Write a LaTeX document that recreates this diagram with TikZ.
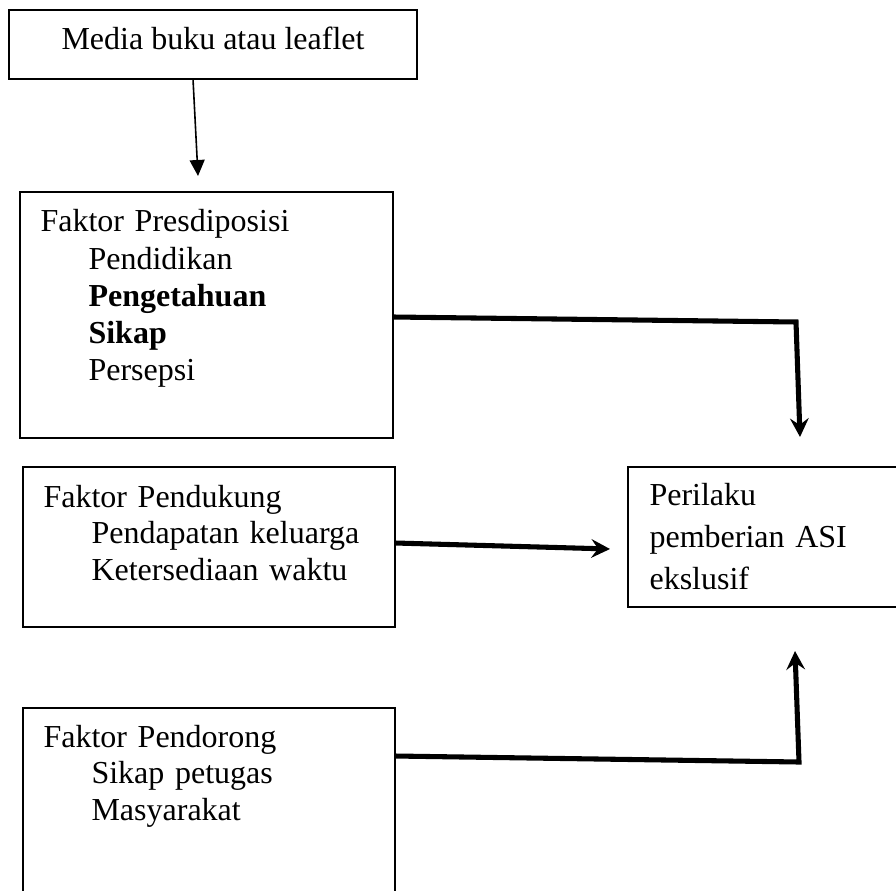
\documentclass[tikz,border=0pt]{standalone}
\usepackage{fontspec}
\setmainfont{Liberation Serif}
\usetikzlibrary{arrows.meta, calc}

\begin{document}
\begin{tikzpicture}[x=0.375pt, y=-0.375pt,
    box/.style={draw, line width=0.75pt, rectangle, inner sep=0pt, outer sep=0pt, anchor=north west},
    txt/.style={font=\fontsize{12}{13.8}\selectfont, inner sep=0pt, align=left, text width=#1, anchor=base west},
    txt/.default=125pt,
    thinarrow/.style={line width=0.6pt, -{Triangle[length=6pt, width=5.6pt]}},
    thickarrow/.style={line width=1.9pt, -{Stealth[length=7pt, width=7pt, inset=2.5pt]}}]
    \useasboundingbox (0,0) rectangle (896,890);

    % Boxes
    \node[box, minimum width=153pt, minimum height=25.9pt] (media) at (9,10) {};
    \node[box, minimum width=139.9pt, minimum height=92.25pt] (pres) at (20,192) {};
    \node[box, minimum width=139.5pt, minimum height=60pt] (dukung) at (23,467) {};
    \node[box, minimum width=139.5pt, minimum height=69pt] (dorong) at (23,708) {};
    \node[box, minimum width=101.25pt, minimum height=52.5pt] (perilaku) at (628,467) {};

    % Texts
    \node[font=\fontsize{12}{13.8}\selectfont, inner sep=0pt, anchor=base] (mediaText) at (213,50) {Media buku atau leaflet};
    \node[txt, font=\fontsize{12}{13.9}\selectfont] (presText) at (40,232) {Faktor Presdiposisi\\
        \hspace*{18pt}Pendidikan\\
        \hspace*{18pt}\textbf{Pengetahuan}\\
        \hspace*{18pt}\textbf{Sikap}\\
        \hspace*{18pt}Persepsi};
    \node[txt, font=\fontsize{12}{13.7}\selectfont] (dukungText) at (43,507) {Faktor Pendukung\\
        \hspace*{18pt}Pendapatan keluarga\\
        \hspace*{18pt}Ketersediaan waktu};
    \node[txt, font=\fontsize{12}{13.7}\selectfont] (dorongText) at (43,747) {Faktor Pendorong\\
        \hspace*{18pt}Sikap petugas\\
        \hspace*{18pt}Masyarakat};
    \node[txt=90pt, font=\fontsize{12}{15.9}\selectfont] (perilakuText) at (649,505) {Perilaku\\
        pemberian ASI\\
        ekslusif};

    % Connectors
    \draw[thinarrow] ($(media.south)+(-20,0)$) -- ($(pres.north west)+(178,-16)$);
    \draw[thickarrow] ($(pres.east)+(0,2)$) -- ($(perilaku.north)+(33,-145)$) -- ($(perilaku.north)+(37,-30)$);
    \draw[thickarrow] ($(dukung.east)+(0,-4)$) -- ($(perilaku.west)+(-18,12)$);
    \draw[thickarrow] ($(dorong.north east)+(0,48)$) -- ($(perilaku.south)+(36,155)$) -- ($(perilaku.south)+(32,44)$);
\end{tikzpicture}
\end{document}
